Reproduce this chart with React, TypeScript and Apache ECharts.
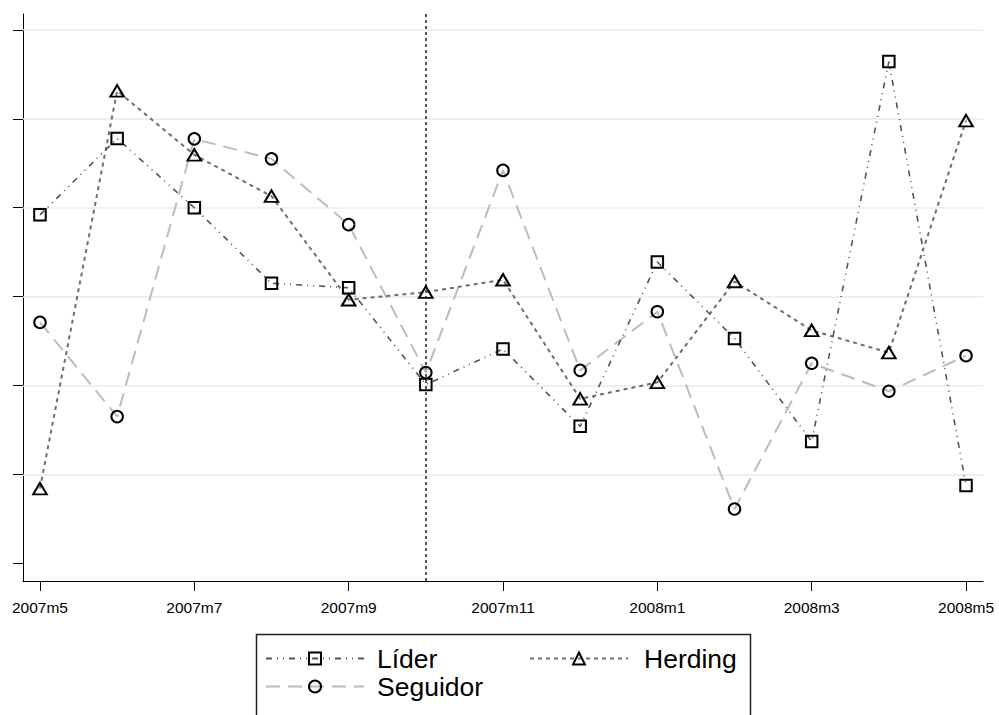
import React, { useEffect, useRef } from "react";
import * as echarts from "echarts";

const months = [
  "2007m5", "2007m6", "2007m7", "2007m8", "2007m9", "2007m10", "2007m11",
  "2007m12", "2008m1", "2008m2", "2008m3", "2008m4", "2008m5",
];
const xTickLabels = ["2007m5", "2007m7", "2007m9", "2007m11", "2008m1", "2008m3", "2008m5"];
const yTicks = [0, 1, 2, 3, 4, 5, 6];
const yGridValues = [1, 2, 3, 4, 5, 6];
const eventMonth = "2007m10";

const lider = [3.92, 4.78, 4.0, 3.15, 3.1, 2.01, 2.41, 1.54, 3.39, 2.53, 1.37, 5.645, 0.875];
const herding = [0.84, 5.315, 4.595, 4.13, 2.965, 3.05, 3.19, 1.85, 2.035, 3.17, 2.62, 2.37, 4.98];
const seguidor = [2.71, 1.65, 4.775, 4.55, 3.81, 2.145, 4.42, 2.17, 2.83, 0.61, 2.25, 1.935, 2.335];

const FONT = "'Liberation Sans', Arial, Helvetica, sans-serif";

export default function App() {
  const ref = useRef<HTMLDivElement>(null);
  useEffect(() => {
    if (!ref.current) return;
    const chart = echarts.init(ref.current, undefined, { renderer: "svg" });
    const toPairs = (arr: number[]) => arr.map((v, i) => [i, v]);
    const tickIdx = xTickLabels.map((l) => months.indexOf(l));
    const markerStyle = { color: "rgba(0,0,0,0)", borderColor: "#000", borderWidth: 2 };
    const legendBase = {
      orient: "horizontal",
      padding: 0,
      itemWidth: 98,
      itemHeight: 15,
      selectedMode: false,
    };
    const legendText = (pad: number) => ({
      fontSize: 26.5,
      fontFamily: FONT,
      color: "#000",
      padding: [0, 0, 0, pad],
    });
    chart.setOption({
      animation: false,
      backgroundColor: "#fff",
      grid: { left: 23, right: 16, top: 14, bottom: 134, containLabel: false },
      xAxis: {
        type: "value",
        min: -0.22,
        max: 12.22,
        axisLine: { show: true, onZero: false, lineStyle: { color: "#000", width: 1 } },
        axisTick: { show: true, length: 10, customValues: tickIdx, lineStyle: { color: "#000", width: 1 } },
        axisLabel: {
          show: true,
          customValues: tickIdx,
          margin: 18,
          fontSize: 15.5,
          fontFamily: FONT,
          color: "#000",
          formatter: (v: number) => months[Math.round(v)] ?? "",
        },
        splitLine: { show: false },
      },
      yAxis: {
        type: "value",
        min: -0.2,
        max: 6.18,
        axisLine: { show: true, onZero: false, lineStyle: { color: "#000", width: 1 } },
        axisTick: { show: true, length: 10, customValues: yTicks, lineStyle: { color: "#000", width: 1 } },
        axisLabel: { show: false },
        splitLine: { show: false },
      },
      legend: [
        { ...legendBase, data: ["Líder"], left: 265, top: 645, textStyle: legendText(8) },
        { ...legendBase, data: ["Herding"], left: 529, top: 645, textStyle: legendText(11) },
        { ...legendBase, data: ["Seguidor"], left: 265, top: 673, textStyle: legendText(8) },
      ],
      graphic: [
        {
          type: "rect",
          left: 254,
          top: 632,
          shape: { width: 494, height: 120 },
          style: { fill: "none", stroke: "#222", lineWidth: 1.5 },
          z: 0,
        },
      ],
      series: [
        {
          name: "Seguidor",
          type: "line",
          data: toPairs(seguidor),
          symbol: "circle",
          symbolSize: 11.5,
          itemStyle: markerStyle,
          lineStyle: { color: "#bcbcbc", width: 2, type: [14, 8] },
          z: 3,
          markLine: {
            silent: true,
            symbol: ["none", "none"],
            z: 1,
            label: { show: false },
            lineStyle: { color: "#e3edee", width: 1.5, type: "solid" },
            data: [
              ...yGridValues.map((v) => ({ yAxis: v })),
            ],
          },
        },
        {
          name: "Herding",
          type: "line",
          data: toPairs(herding),
          symbol: "triangle",
          symbolSize: [13.5, 11.5],
          itemStyle: markerStyle,
          lineStyle: { color: "#6e6e6e", width: 2, type: [4, 4] },
          z: 4,
          markLine: {
            silent: true,
            symbol: ["none", "none"],
            z: 2,
            label: { show: false },
            lineStyle: { color: "#555", width: 2, type: [3, 3] },
            data: [{ xAxis: months.indexOf(eventMonth) }],
          },
        },
        {
          name: "Líder",
          type: "line",
          data: toPairs(lider),
          symbol: "rect",
          symbolSize: 11.5,
          itemStyle: markerStyle,
          lineStyle: { color: "#555", width: 1.6, type: [6, 5, 1, 5, 1, 5] },
          z: 5,
        },
      ],
    });
    return () => chart.dispose();
  }, []);
  return (
    <div
      ref={ref}
      style={{ position: "fixed", left: 0, top: 0, width: 999, height: 715, background: "#fff" }}
    />
  );
}
